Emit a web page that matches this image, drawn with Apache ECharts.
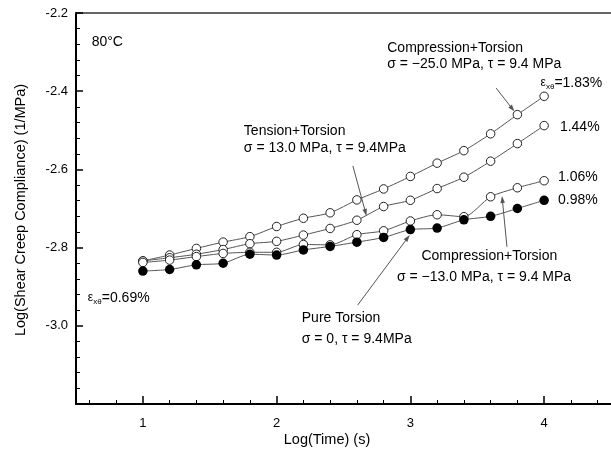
<!DOCTYPE html>
<html><head><meta charset="utf-8">
<script src="https://cdn.jsdelivr.net/npm/echarts@6/dist/echarts.min.js"></script>
<style>html,body{margin:0;padding:0;background:#fff}#c{width:611px;height:449px}</style>
</head><body><div id="c"></div>
<script>
// ---- data ----
const logTime = [1.0,1.2,1.4,1.6,1.8,2.0,2.2,2.4,2.6,2.8,3.0,3.2,3.4,3.6,3.8,4.0];
const comp25 = [-2.834,-2.819,-2.802,-2.786,-2.772,-2.746,-2.725,-2.711,-2.678,-2.650,-2.618,-2.584,-2.552,-2.509,-2.460,-2.413];
const tens13 = [-2.834,-2.826,-2.817,-2.805,-2.790,-2.784,-2.768,-2.751,-2.730,-2.695,-2.679,-2.649,-2.620,-2.579,-2.534,-2.488];
const comp13 = [-2.838,-2.832,-2.823,-2.815,-2.812,-2.812,-2.792,-2.793,-2.767,-2.757,-2.732,-2.716,-2.721,-2.670,-2.647,-2.629];
const pureTorsion = [-2.860,-2.856,-2.844,-2.840,-2.817,-2.819,-2.806,-2.797,-2.786,-2.774,-2.754,-2.750,-2.729,-2.720,-2.700,-2.679];
const xMajorTicks = [1,2,3,4];
const xMinorTicks = [0.6,0.8,1.2,1.4,1.6,1.8,2.2,2.4,2.6,2.8,3.2,3.4,3.6,3.8,4.2,4.4];
const yMajorTicks = [-3.0,-2.8,-2.6,-2.4,-2.2];
const yMinorTicks = [-3.16,-3.12,-3.08,-3.04,-2.96,-2.92,-2.88,-2.84,-2.76,-2.72,-2.68,-2.64,-2.56,-2.52,-2.48,-2.44,-2.36,-2.32,-2.28,-2.24];

const FONT = '"Liberation Sans", Arial, Helvetica, sans-serif';
const chart = echarts.init(document.getElementById('c'), null, {renderer:'canvas'});
const pair = ys => logTime.map((x,i)=>[x, ys[i]]);
function openSeries(name, ys){
  return {name, type:'line', data:pair(ys), xAxisIndex:0, yAxisIndex:0, smooth:0.25,
    symbol:'circle', symbolSize:8.5, showSymbol:true,
    lineStyle:{color:'#555', width:1},
    itemStyle:{color:'#fff', borderColor:'#222', borderWidth:1}, animation:false, z:3};
}
const xBase = {type:'value', min:0.5, max:4.5, gridIndex:0, splitLine:{show:false}};
const yBase = {type:'value', min:-3.2, max:-2.2, gridIndex:0, splitLine:{show:false}};
chart.setOption({
  animation:false,
  backgroundColor:'#fff',
  grid:{left:76, top:13, width:545, height:391},
  xAxis:[
    Object.assign({}, xBase, {position:'bottom',
      axisLine:{show:true, onZero:false, lineStyle:{color:'#000', width:2}},
      axisTick:{show:true, inside:true, length:8, customValues:xMajorTicks, lineStyle:{color:'#000', width:1.5}},
      axisLabel:{show:true, customValues:xMajorTicks, margin:13, fontSize:13, fontFamily:FONT, color:'#000', formatter:v=>String(v)}}),
    Object.assign({}, xBase, {position:'bottom',
      axisLine:{show:false},
      axisTick:{show:true, inside:true, length:4, customValues:xMinorTicks, lineStyle:{color:'#000', width:1}},
      axisLabel:{show:false}}),
    Object.assign({}, xBase, {position:'top',
      axisLine:{show:true, onZero:false, lineStyle:{color:'#333', width:1.5}},
      axisTick:{show:false}, axisLabel:{show:false}})
  ],
  yAxis:[
    Object.assign({}, yBase, {position:'left',
      axisLine:{show:true, onZero:false, lineStyle:{color:'#000', width:2}},
      axisTick:{show:true, inside:true, length:7, customValues:yMajorTicks, lineStyle:{color:'#000', width:1.5}},
      axisLabel:{show:true, customValues:yMajorTicks, margin:8, fontSize:13, fontFamily:FONT, color:'#000', formatter:v=>v.toFixed(1)}}),
    Object.assign({}, yBase, {position:'left',
      axisLine:{show:false},
      axisTick:{show:true, inside:true, length:4, customValues:yMinorTicks, lineStyle:{color:'#000', width:1}},
      axisLabel:{show:false}})
  ],
  series:[
    openSeries('Compression+Torsion σ=-25.0', comp25),
    openSeries('Tension+Torsion σ=13.0', tens13),
    openSeries('Compression+Torsion σ=-13.0', comp13),
    {name:'Pure Torsion', type:'line', data:pair(pureTorsion), xAxisIndex:0, yAxisIndex:0, smooth:0.25,
      symbol:'circle', symbolSize:9.5, lineStyle:{color:'#555', width:1},
      itemStyle:{color:'#000', borderColor:'#000', borderWidth:0}, animation:false, z:4}
  ]
});

// ---- annotations (anchored in data coordinates) ----
const texts = [
  {x:0.617, y:-2.274, t:'80°C'},
  {x:2.827, y:-2.290, t:'Compression+Torsion'},
  {x:2.827, y:-2.331, t:'σ = −25.0 MPa, τ = 9.4 MPa'},
  {x:1.755, y:-2.502, t:'Tension+Torsion'},
  {x:1.755, y:-2.546, t:'σ = 13.0 MPa, τ = 9.4MPa'},
  {x:4.118, y:-2.492, t:'1.44%'},
  {x:4.104, y:-2.619, t:'1.06%'},
  {x:4.104, y:-2.678, t:'0.98%'},
  {x:3.083, y:-2.821, t:'Compression+Torsion'},
  {x:2.900, y:-2.876, t:'σ = −13.0 MPa, τ = 9.4 MPa'},
  {x:2.188, y:-2.980, t:'Pure Torsion'},
  {x:2.188, y:-3.034, t:'σ = 0, τ = 9.4MPa'}
];
const epsLabels = [
  {x:3.972, y:-2.379, t:'=1.83%'},
  {x:0.588, y:-2.929, t:'=0.69%'}
];
const arrows = [
  {from:[3.641,-2.392], to:[3.778,-2.452]},
  {from:[2.570,-2.591], to:[2.672,-2.719]},
  {from:[3.722,-2.798], to:[3.685,-2.668]},
  {from:[2.606,-2.947], to:[2.995,-2.768]}
];
const px = p => chart.convertToPixel({xAxisIndex:0, yAxisIndex:0}, p);
const g = [];
texts.forEach(a=>{
  const [X,Y] = px([a.x,a.y]);
  g.push({type:'text', x:X, y:Y, z:10, style:{text:a.t, fontSize:14, fontFamily:FONT, fill:'#000', align:'left', verticalAlign:'middle'}});
});
epsLabels.forEach(a=>{
  const [X,Y] = px([a.x,a.y]);
  g.push({type:'text', x:X, y:Y, z:10, style:{text:'ε', fontSize:12, fontFamily:FONT, fill:'#000', align:'left', verticalAlign:'middle'}});
  g.push({type:'text', x:X+5.5, y:Y+3.5, z:10, style:{text:'xθ', fontSize:8, fontFamily:FONT, fill:'#000', align:'left', verticalAlign:'middle'}});
  g.push({type:'text', x:X+14, y:Y, z:10, style:{text:a.t, fontSize:14, fontFamily:FONT, fill:'#000', align:'left', verticalAlign:'middle'}});
});
arrows.forEach(a=>{
  const [x1,y1] = px(a.from), [x2,y2] = px(a.to);
  const L = Math.hypot(x2-x1, y2-y1), dx=(x2-x1)/L, dy=(y2-y1)/L;
  const hl=7, hw=2.3;
  g.push({type:'line', z:9, shape:{x1, y1, x2:x2-dx*hl*0.6, y2:y2-dy*hl*0.6}, style:{stroke:'#555', lineWidth:1}});
  g.push({type:'polygon', z:9, shape:{points:[[x2,y2],[x2-dx*hl-dy*hw, y2-dy*hl+dx*hw],[x2-dx*hl+dy*hw, y2-dy*hl-dx*hw]]}, style:{fill:'#555'}});
});
// axis titles
g.push({type:'text', x:327, y:440, z:10, style:{text:'Log(Time) (s)', fontSize:14.5, fontFamily:FONT, fill:'#000', align:'center', verticalAlign:'middle'}});
g.push({type:'text', x:21, y:210, rotation:Math.PI/2, z:10, style:{text:'Log(Shear Creep Compliance) (1/MPa)', fontSize:14.5, fontFamily:FONT, fill:'#000', align:'center', verticalAlign:'middle'}});
chart.setOption({graphic:g});
</script>
</body></html>
